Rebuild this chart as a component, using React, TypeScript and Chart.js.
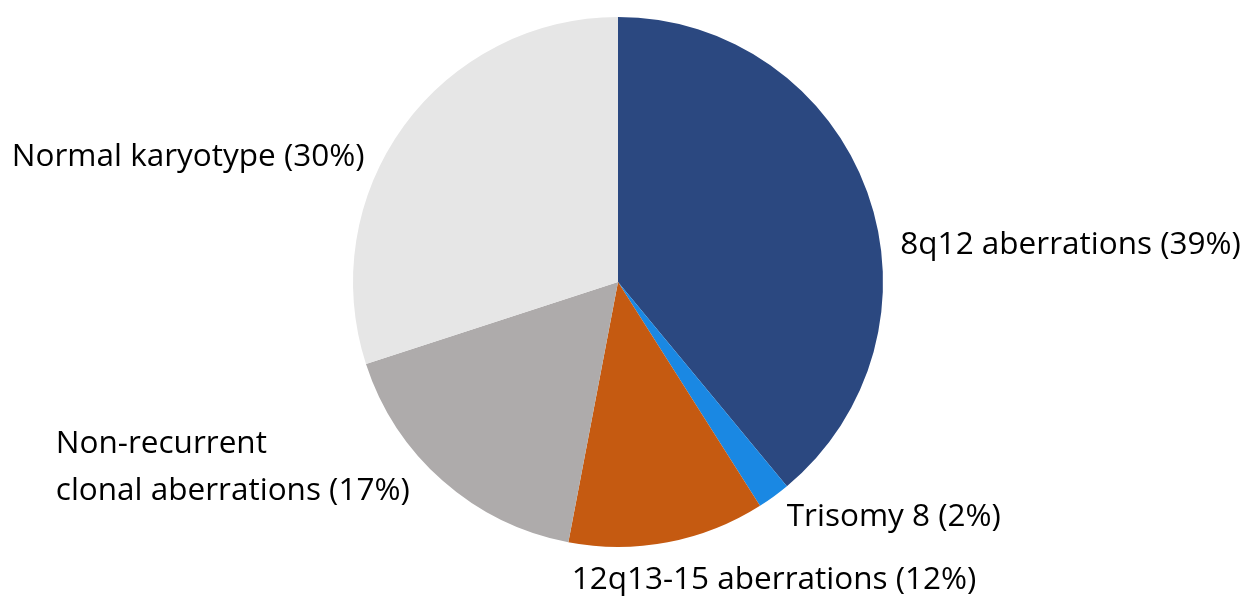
import React, { useEffect, useRef } from "react";
import { Chart, registerables } from "chart.js";

Chart.register(...registerables);

const categories: string[][] = [
  ["8q12 aberrations (39%)"],
  ["Trisomy 8 (2%)"],
  ["12q13-15 aberrations (12%)"],
  ["Non-recurrent", "clonal aberrations (17%)"],
  ["Normal karyotype (30%)"],
];
const values: number[] = [39, 2, 12, 17, 30];
const colors: string[] = ["#2B4880", "#1A88E3", "#C55A11", "#AEABAB", "#E6E6E6"];
// label nudges (px) from the slice's outer edge at its mid-angle, and which side the text block sits on
const labelDx: number[] = [33, 13, -96, -33, -39];
const labelDy: number[] = [53, 21, 38, -13, 31];
const labelSide: string[] = ["left", "left", "left", "right", "right"];

const FONT_SIZE = 31.5;
const LINE_H = 47;

const labelPlugin = {
  id: "outerLabels",
  afterDraw(chart: any) {
    const ctx = chart.ctx;
    const meta = chart.getDatasetMeta(0);
    ctx.save();
    ctx.font = `${FONT_SIZE}px "Open Sans", sans-serif`;
    ctx.fillStyle = "#000";
    ctx.textBaseline = "middle";
    ctx.textAlign = "left";
    meta.data.forEach((arc: any, i: number) => {
      const { x, y, startAngle, endAngle, outerRadius } = arc.getProps(
        ["x", "y", "startAngle", "endAngle", "outerRadius"],
        true
      );
      const mid = (startAngle + endAngle) / 2;
      const ax = x + Math.cos(mid) * outerRadius + labelDx[i];
      const ay = y + Math.sin(mid) * outerRadius + labelDy[i];
      const lines = categories[i];
      const maxW = Math.max(...lines.map((l) => ctx.measureText(l).width));
      const left = labelSide[i] === "right" ? ax - maxW : ax;
      const top = ay - ((lines.length - 1) * LINE_H) / 2;
      lines.forEach((ln, j) => ctx.fillText(ln, left, top + j * LINE_H));
    });
    ctx.restore();
  },
};

export default function App() {
  const ref = useRef<HTMLCanvasElement>(null);
  useEffect(() => {
    if (!ref.current) return;
    const chart = new Chart(ref.current, {
      type: "pie",
      data: {
        labels: categories.map((c) => c.join(" ")),
        datasets: [
          {
            data: values,
            backgroundColor: colors,
            borderWidth: 0,
          },
        ],
      },
      options: {
        animation: false,
        responsive: false,
        layout: { padding: { top: 17, bottom: 54, left: 353, right: 362 } },
        plugins: {
          legend: { display: false },
          tooltip: { enabled: false },
        },
      },
      plugins: [labelPlugin],
    });
    return () => chart.destroy();
  }, []);
  return (
    <div style={{ position: "fixed", left: 0, top: 0, width: 1245, height: 601, background: "#fff" }}>
      <canvas ref={ref} width={1245} height={601} style={{ width: 1245, height: 601 }} />
    </div>
  );
}
